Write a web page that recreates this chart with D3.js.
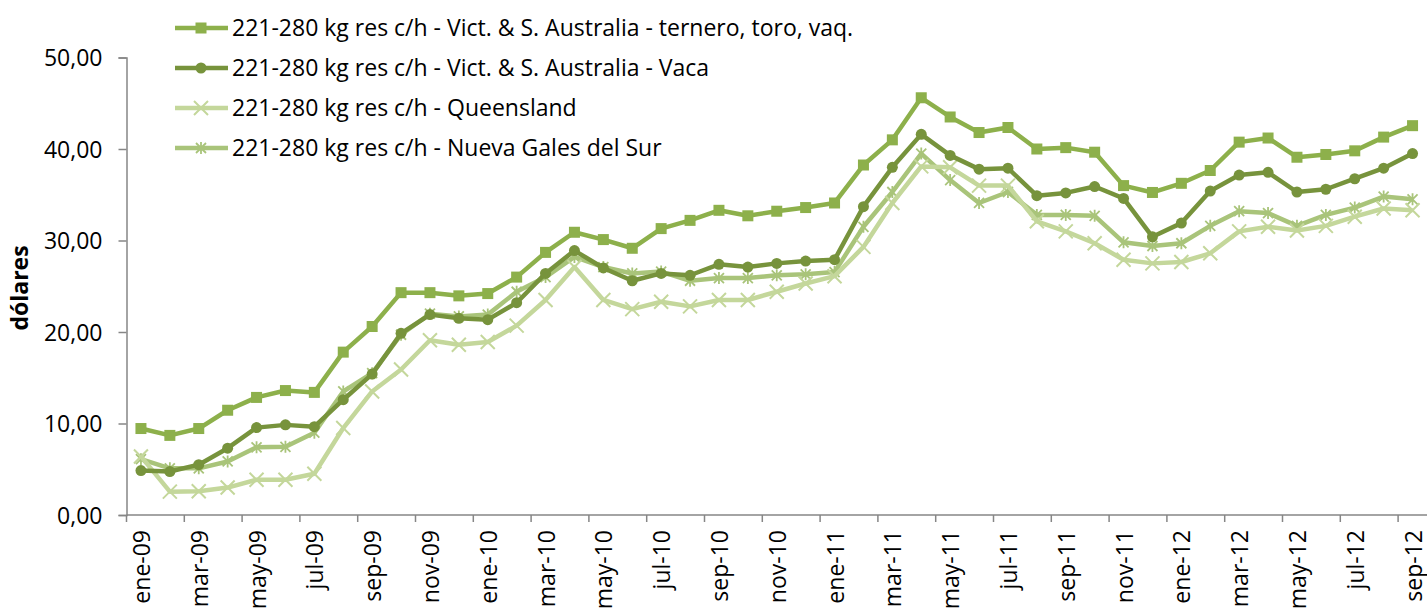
<!DOCTYPE html>
<html>
<head>
<meta charset="utf-8">
<script src="https://cdn.jsdelivr.net/npm/d3@7"></script>
<style>
  body { margin: 0; background: #fff; }
  svg { font-family: "Open Sans", Lato, sans-serif; }
</style>
</head>
<body>
<svg id="chart" width="1427" height="608"></svg>
<script>
var months = ["ene-09","feb-09","mar-09","abr-09","may-09","jun-09","jul-09","ago-09","sep-09","oct-09","nov-09","dic-09",
  "ene-10","feb-10","mar-10","abr-10","may-10","jun-10","jul-10","ago-10","sep-10","oct-10","nov-10","dic-10",
  "ene-11","feb-11","mar-11","abr-11","may-11","jun-11","jul-11","ago-11","sep-11","oct-11","nov-11","dic-11",
  "ene-12","feb-12","mar-12","abr-12","may-12","jun-12","jul-12","ago-12","sep-12"];

var victTernero = [9.45,8.7,9.45,11.45,12.85,13.6,13.4,17.8,20.6,24.3,24.3,23.95,24.2,26.0,28.7,30.9,30.1,29.15,31.3,32.2,33.3,32.7,33.2,33.6,34.1,
  38.25,41.0,45.6,43.5,41.8,42.35,40.0,40.15,39.65,36.0,35.25,36.25,37.65,40.75,41.2,39.1,39.4,39.8,41.3,42.55];
var victVaca = [4.85,4.75,5.5,7.3,9.55,9.85,9.65,12.6,15.4,19.85,21.9,21.5,21.35,23.2,26.4,28.9,27.0,25.6,26.4,26.2,27.4,27.1,27.5,27.75,27.9,
  33.7,38.0,41.6,39.3,37.8,37.9,34.9,35.2,35.9,34.6,30.4,31.9,35.4,37.15,37.45,35.3,35.6,36.75,37.9,39.5];
var queensland = [6.4,2.55,2.6,3.0,3.85,3.85,4.5,9.5,13.5,15.9,19.1,18.6,18.9,20.7,23.5,27.1,23.5,22.5,23.3,22.8,23.5,23.5,24.4,25.3,26.1,
  29.3,34.1,38.1,38.0,36.0,36.0,32.1,31.0,29.7,27.9,27.5,27.65,28.6,31.0,31.5,31.1,31.6,32.6,33.5,33.3];
var nuevaGales = [6.1,5.1,5.1,5.85,7.4,7.45,9.0,13.5,15.5,19.7,22.0,21.7,21.9,24.4,26.0,28.2,27.1,26.4,26.6,25.6,25.9,25.9,26.2,26.3,26.55,
  31.5,35.3,39.5,36.6,34.1,35.3,32.8,32.8,32.7,29.8,29.4,29.7,31.6,33.2,33.0,31.6,32.8,33.6,34.8,34.5];

var seriesNames = ["221-280 kg res c/h - Vict. & S. Australia - ternero, toro, vaq.",
  "221-280 kg res c/h - Vict. & S. Australia - Vaca",
  "221-280 kg res c/h - Queensland",
  "221-280 kg res c/h - Nueva Gales del Sur"];
var yTicks = [0,10,20,30,40,50];

var series = [
  {name: seriesNames[0], values: victTernero, color: "#8db04b", marker: "square"},
  {name: seriesNames[1], values: victVaca, color: "#77933c", marker: "circle"},
  {name: seriesNames[2], values: queensland, color: "#c4d79b", marker: "x"},
  {name: seriesNames[3], values: nuevaGales, color: "#a9c47a", marker: "star"}
];

var svg = d3.select("#chart");
var plotLeft = 126.5, plotRight = 1427, plotTop = 57.5, plotBottom = 515;
var fontSize = 23;

var x = d3.scaleBand().domain(months).range([plotLeft, plotRight]).padding(0);
var y = d3.scaleLinear().domain([0, 50]).range([plotBottom, plotTop]);
var fmt = function(d){ return d3.format(".2f")(d).replace(".", ","); };

// y axis
var yAxis = svg.append("g").attr("transform", "translate(" + plotLeft + ",0)")
  .call(d3.axisLeft(y).tickValues(yTicks).tickSize(8).tickFormat(fmt));
yAxis.select(".domain").attr("stroke", "#868686").attr("stroke-width", 1.5);
yAxis.selectAll(".tick line").attr("stroke", "#868686").attr("stroke-width", 1.5);
yAxis.selectAll("text").attr("font-size", fontSize).attr("fill", "#000").attr("x", -24).attr("dy", "0.35em")
  .attr("font-family", "'Open Sans', sans-serif");

// x axis (tick every 2 months, label on first month of each pair)
var xg = svg.append("g").attr("transform", "translate(0," + plotBottom + ")");
xg.append("line").attr("x1", plotLeft).attr("x2", plotRight).attr("stroke", "#868686").attr("stroke-width", 1.5);
var tickIdx = d3.range(0, months.length + 1, 2);
xg.selectAll("line.tk").data(tickIdx).enter().append("line").attr("class", "tk")
  .attr("x1", function(i){ return i < months.length ? x(months[i]) : plotRight; })
  .attr("x2", function(i){ return i < months.length ? x(months[i]) : plotRight; })
  .attr("y1", 0).attr("y2", 7).attr("stroke", "#868686").attr("stroke-width", 1.5);
xg.selectAll("text").data(months.filter(function(d, i){ return i % 2 === 0; })).enter().append("text")
  .attr("transform", function(d){ return "translate(" + (x(d) + x.bandwidth() / 2 + 9) + ",15) rotate(-90)"; })
  .attr("text-anchor", "end").attr("font-size", fontSize).attr("fill", "#000")
  .text(function(d){ return d; });

// y title
svg.append("text").attr("transform", "translate(28,288) rotate(-90)")
  .attr("text-anchor", "middle").attr("font-size", fontSize).attr("font-weight", "bold").text("dólares");

function drawMarker(g, type, color, cx, cy) {
  if (type === "square") {
    g.append("rect").attr("x", cx - 5.5).attr("y", cy - 5.5).attr("width", 11).attr("height", 11).attr("fill", color);
  } else if (type === "circle") {
    g.append("circle").attr("cx", cx).attr("cy", cy).attr("r", 5.5).attr("fill", color);
  } else if (type === "x") {
    g.append("path").attr("d", "M" + (cx - 7) + "," + (cy - 7) + "L" + (cx + 7) + "," + (cy + 7) + "M" + (cx - 7) + "," + (cy + 7) + "L" + (cx + 7) + "," + (cy - 7))
      .attr("stroke", color).attr("stroke-width", 2);
  } else {
    g.append("path").attr("d", "M" + (cx - 5) + "," + (cy - 5) + "L" + (cx + 5) + "," + (cy + 5) + "M" + (cx - 5) + "," + (cy + 5) + "L" + (cx + 5) + "," + (cy - 5) + "M" + cx + "," + (cy - 6) + "L" + cx + "," + (cy + 6))
      .attr("stroke", color).attr("stroke-width", 1.8);
  }
}

var line = d3.line()
  .x(function(d, i){ return x(months[i]) + x.bandwidth() / 2; })
  .y(function(d){ return y(d); });

// draw in reverse so first series is on top
series.slice().reverse().forEach(function(s) {
  var g = svg.append("g");
  g.append("path").datum(s.values).attr("d", line).attr("fill", "none")
    .attr("stroke", s.color).attr("stroke-width", 4.5).attr("stroke-linejoin", "round");
  s.values.forEach(function(v, i) {
    drawMarker(g, s.marker, s.color, x(months[i]) + x.bandwidth() / 2, y(v));
  });
});

// legend
series.forEach(function(s, i) {
  var ly = 28 + i * 40;
  var g = svg.append("g");
  g.append("line").attr("x1", 175).attr("x2", 228).attr("y1", ly).attr("y2", ly)
    .attr("stroke", s.color).attr("stroke-width", 4.5);
  drawMarker(g, s.marker, s.color, 201, ly);
  g.append("text").attr("x", 232).attr("y", ly).attr("dy", "0.35em").attr("font-size", fontSize).attr("fill", "#000").text(s.name);
});
</script>
</body>
</html>
